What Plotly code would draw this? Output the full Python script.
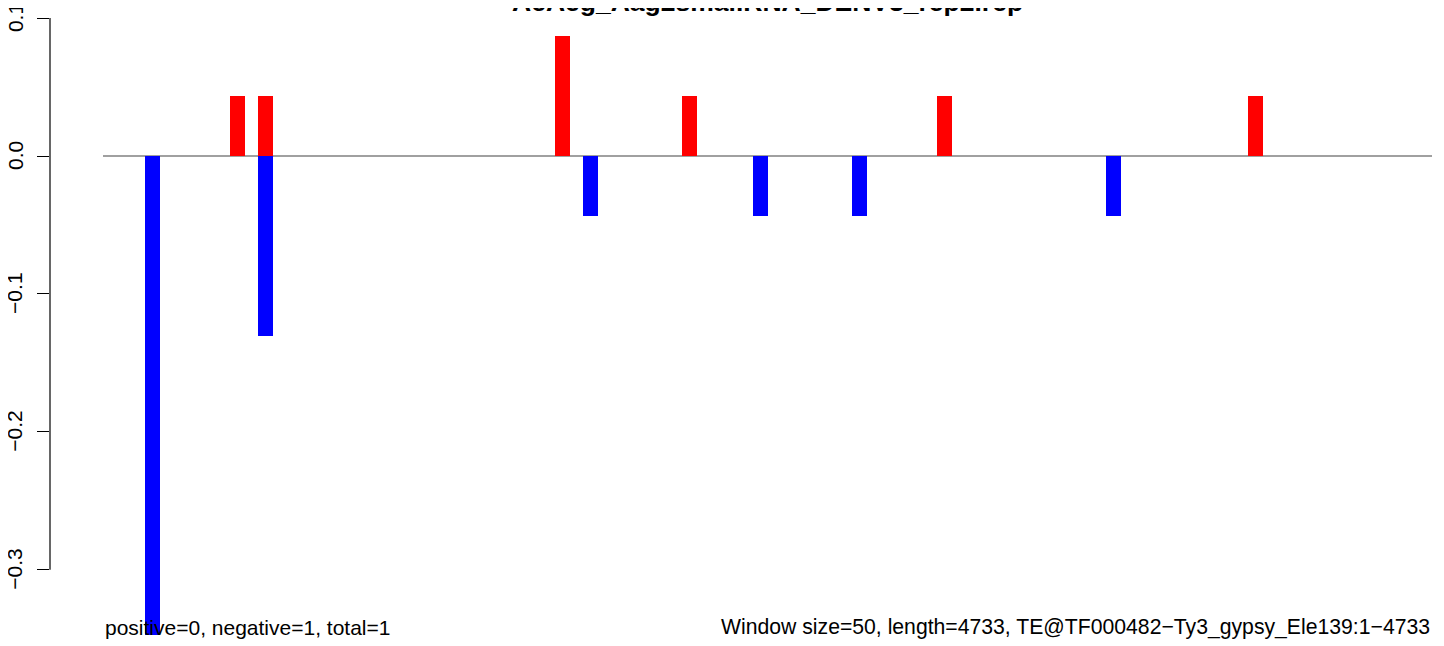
import plotly.graph_objects as go

# Data (window index, value); window size 50 bp
window_size = 50
pos_windows = [9, 11, 32, 41, 59, 81]
pos_values = [0.0434, 0.0434, 0.0868, 0.0434, 0.0434, 0.0434]
neg_windows = [3, 11, 34, 46, 53, 71]
neg_values = [-0.3474, -0.1303, -0.0434, -0.0434, -0.0434, -0.0434]
n_windows = 94
y_ticks = [-0.3, -0.2, -0.1, 0.0, 0.1]
y_ticklabels = ["\u22120.3", "\u22120.2", "\u22120.1", "0.0", "0.1"]
title = "AeAeg_Aag2smallRNA_DENV3_rep2.rep"
left_note = "positive=0, negative=1, total=1"
right_note = "Window size=50, length=4733, TE@TF000482\u2212Ty3_gypsy_Ele139:1\u22124733"

# page body has an 8px default margin: work in figure coordinates
OFF = 8
W, H = 1444 - OFF, 646 - OFF
L = 50 - OFF
px_per_bp = 14.1385 / window_size
x0_px = 103 - OFF
x_range = [-(x0_px - L) / px_per_bp, (W - x0_px) / px_per_bp]
y0_px = 156 - OFF
px_per_unit = 1379.0
y_range = [-(H - y0_px) / px_per_unit, y0_px / px_per_unit]

bar_w = 15 / px_per_bp
pos_x = [w * window_size + window_size / 2 for w in pos_windows]
neg_x = [w * window_size + window_size / 2 for w in neg_windows]

font = "Liberation Sans, Arial, Helvetica, sans-serif"

fig = go.Figure()
fig.add_trace(go.Bar(x=pos_x, y=pos_values, width=bar_w, marker=dict(color="#ff0000", line=dict(width=0)),
                     showlegend=False, hoverinfo="skip"))
fig.add_trace(go.Bar(x=neg_x, y=neg_values, width=bar_w, marker=dict(color="#0000ff", line=dict(width=0)),
                     showlegend=False, hoverinfo="skip"))

# zero line
fig.add_shape(type="line", xref="x", yref="y", x0=0, x1=n_windows * window_size, y0=0, y1=0,
              line=dict(color="#808080", width=1.3), layer="below")
# y axis line spanning the tick range
fig.add_shape(type="line", xref="paper", yref="y", x0=0, x1=0, y0=min(y_ticks), y1=max(y_ticks),
              line=dict(color="black", width=1.2))

# rotated tick labels, centred on their ticks
lab_x = (7 - L) / (W - L)
for v, t in zip(y_ticks, y_ticklabels):
    fig.add_annotation(text=t, xref="paper", yref="y", x=lab_x, y=v, textangle=-90,
                       xanchor="center", yanchor="middle", showarrow=False,
                       font=dict(family=font, size=21, color="black"))

fig.add_annotation(text="<b>" + title + "</b>", xref="paper", yref="paper", x=(767 - 50) / (1444 - 50),
                   y=1 + 6.5 / H, xanchor="center", yanchor="middle", showarrow=False,
                   font=dict(family=font, size=26.5, color="black"))
fig.add_annotation(text=left_note, xref="x", yref="paper", x=0, y=1 - 619 / H,
                   xanchor="left", yanchor="middle", showarrow=False,
                   font=dict(family=font, size=21, color="black"))
fig.add_annotation(text=right_note, xref="x", yref="paper", x=n_windows * window_size, y=1 - 619 / H,
                   xanchor="right", yanchor="middle", showarrow=False,
                   font=dict(family=font, size=21.2, color="black"))

fig.update_layout(
    width=W, height=H,
    margin=dict(l=L, r=0, t=0, b=0),
    paper_bgcolor="white", plot_bgcolor="white",
    barmode="overlay",
    bargap=0,
    xaxis=dict(range=x_range, visible=False, showgrid=False, zeroline=False),
    yaxis=dict(range=y_range, tickvals=y_ticks, showticklabels=False,
               ticks="outside", ticklen=12, tickwidth=1.2, tickcolor="black",
               automargin=False, showgrid=False, zeroline=False, showline=False),
    font=dict(family=font),
)

fig.write_html("out.html")
